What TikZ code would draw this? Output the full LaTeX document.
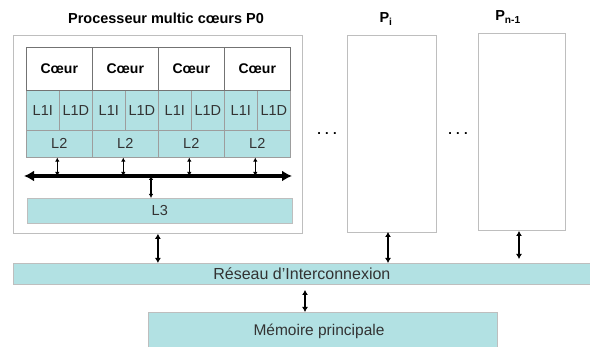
\documentclass[tikz,border=0pt]{standalone}
\usepackage{fontspec}
\setmainfont{Liberation Sans}
\usetikzlibrary{arrows.meta}
\definecolor{cachefill}{RGB}{178,225,227}
\definecolor{boxline}{RGB}{190,190,190}
\definecolor{gridline}{RGB}{115,115,115}
\tikzset{
  procbox/.style={draw=boxline, line width=0.8pt, fill=white, anchor=north west, inner sep=0pt},
  corecell/.style={draw=gridline, line width=0.6pt, fill=white, anchor=north west, inner sep=0pt,
    font=\fontsize{14}{14}\selectfont\bfseries},
  cachecell/.style={draw=gridline!70, line width=0.6pt, fill=cachefill, anchor=north west, inner sep=0pt,
    font=\fontsize{14.5}{14.5}\selectfont, text=black!80},
  bar/.style={draw=boxline, line width=0.8pt, fill=cachefill, anchor=north west, inner sep=0pt,
    font=\fontsize{16}{16}\selectfont, text=black!80},
  label/.style={font=\fontsize{14.5}{14.5}\selectfont\bfseries, inner sep=0pt},
  link/.style={line width=1.8pt, {Latex[length=5pt,width=6pt]}-{Latex[length=5pt,width=6pt]}},
  thinlink/.style={line width=1.2pt, {Latex[length=4pt,width=4.5pt]}-{Latex[length=4pt,width=4.5pt]}},
  busline/.style={line width=3.6pt, {Latex[length=10pt,width=11pt]}-{Latex[length=10pt,width=11pt]}},
  dots/.style={font=\fontsize{13}{13}\selectfont\bfseries, inner sep=0pt}
}
\begin{document}
\begin{tikzpicture}[x=1pt,y=-1pt]
\useasboundingbox[fill=white] (0,0) rectangle (590,347);

% processors
\node[procbox, minimum width=289pt, minimum height=198pt] (p0) at (13,35) {};
\node[procbox, minimum width=89pt, minimum height=197pt] (pi) at (347,35) {};
\node[procbox, minimum width=87pt, minimum height=197pt] (pn) at (478,33) {};

\node[label] (t0) at (166,18) {Processeur multic  cœurs P0};
\node[label] (ti) at (386,19) {P\textsubscript{i}};
\node[label] (tn) at (508,17) {P\textsubscript{n-1}};

\node[dots] (d1) at (327,134) {.\,\,.\,\,.};
\node[dots] (d2) at (458,134) {.\,\,.\,\,.};

% cores and their caches
\foreach \i/\x in {1/26,2/92,3/158,4/224}{
  \node[corecell, minimum width=66pt, minimum height=43pt] (c\i) at (\x,47) {Cœur};
  \node[cachecell, minimum width=33pt, minimum height=40pt] (li\i) at (\x,90) {L1I};
  \node[cachecell, minimum width=33pt, minimum height=40pt] (ld\i) at (\x+33,90) {L1D};
  \node[cachecell, minimum width=66pt, minimum height=27pt] (lt\i) at (\x,130) {L2};
}
\draw[gridline, line width=0.6pt] (c1.north west) rectangle (c4.south east);

% on-chip bus and L3
\coordinate (busl) at (24,176);
\coordinate (busr) at (292,176);
\draw[busline] (busl) -- (busr);
\foreach \i in {1,...,4}{
  \draw[thinlink] (lt\i.south) ++(-2,0) coordinate (s\i) -- (s\i |- busl);
}
\node[cachecell, draw=boxline, minimum width=265pt, minimum height=25pt] (l3) at (27,198) {L3};
\coordinate (bus3) at (151,176);
\draw[thinlink] (bus3) -- (bus3 |- l3.north);

% interconnect and main memory
\node[bar, minimum width=577pt, minimum height=21pt] (net) at (13,263) {Réseau d'Interconnexion};
\node[bar, minimum width=349pt, minimum height=40pt] (mem) at (148,312) {};
\node[font=\fontsize{15.5}{15.5}\selectfont, text=black!80, inner sep=0pt] (memt) at (319,331) {Mémoire principale};

\draw[link] (p0.south) -- (p0.south |- net.north);
\coordinate (ai) at (388,232);
\draw[link] (ai) -- (ai |- net.north);
\coordinate (an) at (519,231);
\draw[link] (an) -- (519,259);
\coordinate (am) at (305,290);
\draw[link] (am) -- (am |- mem.north);
\end{tikzpicture}
\end{document}
